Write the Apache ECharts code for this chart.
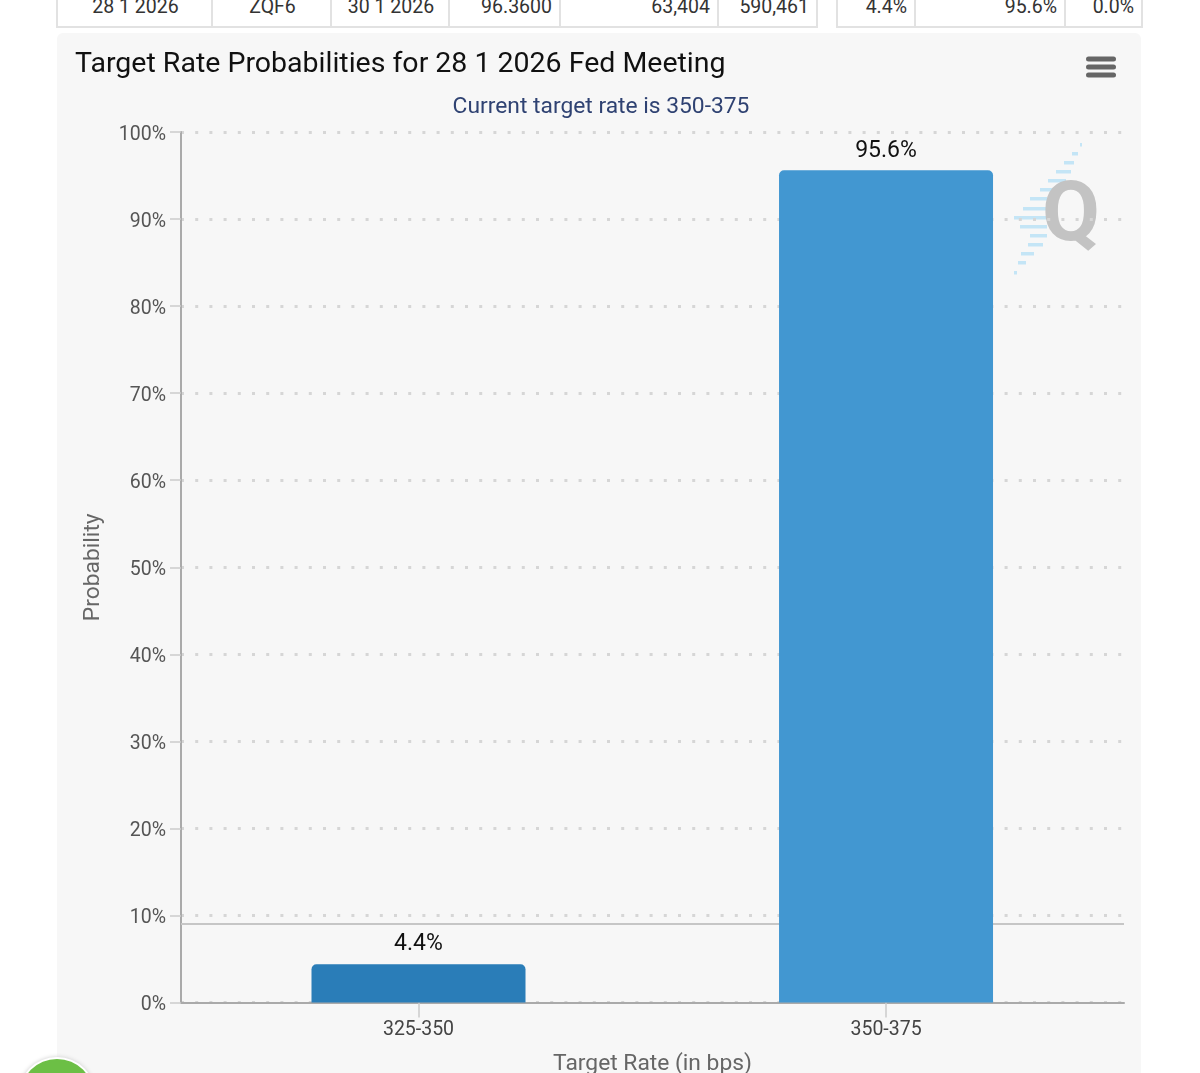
<!DOCTYPE html>
<html>
<head>
<meta charset="utf-8">
<title>Target Rate Probabilities</title>
<script src="https://cdn.jsdelivr.net/npm/echarts@6/dist/echarts.min.js"></script>
<style>
html, body { margin: 0; padding: 0; background: #fff; overflow: hidden; }
body { width: 1200px; height: 1073px; position: relative; font-family: Roboto, sans-serif; }
.card { position: absolute; left: 57px; top: 33px; width: 1084px; height: 1060px; background: #f7f7f7; border-radius: 6px; }
#chart { position: absolute; left: 0; top: 0; width: 1200px; height: 1073px; }
table { position: absolute; top: -19px; border-collapse: collapse; table-layout: fixed; font-size: 19.5px; color: #333; }
td { border: 2px solid #e2e2e2; border-top: none; height: 46px; padding: 6px 7px 0 9px; box-sizing: border-box; text-align: right; vertical-align: middle; white-space: nowrap; }
td.c { text-align: center; }
.dot { position: absolute; left: 20px; top: 1059px; width: 74px; height: 74px; border-radius: 50%; background: #6cbf45; box-shadow: 0 0 0 2px #fff, 0 0 4px 2px #ccc; }
</style>
</head>
<body>
<div class="card"></div>
<table id="t1" style="left:56px;width:760px"></table>
<table id="t2" style="left:836px;width:305px"></table>
<div id="chart"></div>
<div class="dot"></div>
<script>
// top row of the table above the chart
var leftRow = ['28 1 2026', 'ZQF6', '30 1 2026', '96.3600', '63,404', '590,461'];
var leftWidths = [155, 119, 118, 111, 158, 99];
var rightRow = ['4.4%', '95.6%', '0.0%'];
var rightWidths = [78, 150, 77];

// chart data
var categories = ['325-350', '350-375'];
var probabilities = [4.4, 95.6];
var barColors = ['#2a7db8', '#4297d1'];
var yTicks = [0, 10, 20, 30, 40, 50, 60, 70, 80, 90, 100];
var currentLine = 9;

function fillRow(id, row, widths, centered) {
	var html = '<tr>';
	for (var i = 0; i < row.length; i++) {
		html += '<td style="width:' + widths[i] + 'px"' + (i < centered ? ' class="c"' : '') + '>' + row[i] + '</td>';
	}
	document.getElementById(id).innerHTML = html + '</tr>';
}
fillRow('t1', leftRow, leftWidths, 3);
fillRow('t2', rightRow, rightWidths, 0);

// logo stripes: y, x start, x end
var stripes = [[143, 1080, 1082], [152, 1072, 1078], [161, 1064, 1074], [170, 1056, 1071], [179, 1048, 1066],
	[188, 1040, 1058], [197, 1030, 1047], [207, 1023, 1047], [216, 1014, 1047], [225, 1020, 1047],
	[234, 1030, 1047], [243, 1028, 1043], [252, 1021, 1034], [261, 1018, 1026], [271, 1014, 1017]];

var graphics = [];
stripes.forEach(function(s) {
	graphics.push({ type: 'rect', z: -1, shape: { x: s[1], y: s[0], width: s[2] - s[1], height: 3.5 }, style: { fill: '#c4e5f6' } });
});
graphics.push({ type: 'text', z: -1, left: 1042, top: 177, style: { text: 'Q', font: 'bold 84px Roboto', fill: '#c3c3c3' } });
// menu button
[59, 67, 75].forEach(function(y) {
	graphics.push({ type: 'rect', shape: { x: 1086, y: y - 2.5, width: 30, height: 5, r: 2.5 }, style: { fill: '#666' } });
});

var myChart = echarts.init(document.getElementById('chart'));
var option = {
	animation: false,
	textStyle: { fontFamily: 'Roboto' },
	title: [ {
		text: 'Target Rate Probabilities for 28 1 2026 Fed Meeting',
		left: 70,
		top: 45,
		textStyle: { fontSize: 28.5, fontWeight: 'normal', color: '#111' }
	}, {
		text: 'Current target rate is 350-375',
		left: 596,
		top: 91,
		textAlign: 'center',
		textStyle: { fontSize: 22.8, fontWeight: 'normal', color: '#2f4272' }
	} ],
	graphic: graphics,
	grid: { left: 181, top: 132, width: 943, height: 870.5, outerBoundsMode: 'none' },
	xAxis: {
		type: 'value',
		min: -0.508,
		max: 1.509,
		name: 'Target Rate (in bps)',
		nameLocation: 'middle',
		nameGap: 50,
		nameTextStyle: { fontSize: 22.8, color: '#666' },
		splitLine: { show: false },
		axisLine: { show: true, lineStyle: { color: '#aaa', width: 2 } },
		axisTick: { show: true, customValues: [0, 1], length: 15, lineStyle: { color: '#ccc', width: 1.5 } },
		axisLabel: {
			customValues: [0, 1],
			margin: 18,
			fontSize: 19.5,
			color: '#444',
			formatter: function(v) { return categories[v]; }
		}
	},
	yAxis: {
		type: 'value',
		min: 0,
		max: 100,
		interval: 10,
		name: 'Probability',
		nameLocation: 'middle',
		nameGap: 76,
		nameTextStyle: { fontSize: 22.8, color: '#666' },
		axisLine: { show: true, onZero: false, lineStyle: { color: '#aaa', width: 2 } },
		axisTick: { show: true, length: 11, lineStyle: { color: '#ccc', width: 1.5 } },
		axisLabel: {
			margin: 15,
			color: '#555',
			formatter: function(v) { return yTicks.indexOf(v) >= 0 ? '{t|' + v + '%}' : ''; },
			rich: { t: { fontSize: 19.5, color: '#555', padding: [6, 0, 0, 0] } }
		},
		splitLine: { show: true, lineStyle: { color: '#d6d6d6', width: 3, type: [3, 11.2] } }
	},
	series: [ {
		name: 'Probability',
		type: 'bar',
		z: 3,
		barWidth: 214,
		data: probabilities.map(function(v, i) {
			return { value: [i, v], itemStyle: { color: barColors[i], borderRadius: [5, 5, 0, 0] } };
		}),
		label: {
			show: true,
			position: 'top',
			distance: 8,
			fontSize: 23,
			color: '#111',
			formatter: function(p) { return p.value[1].toFixed(1) + '%'; }
		},
		markLine: {
			silent: true,
			symbol: 'none',
			z: 1,
			label: { show: false },
			lineStyle: { color: '#c6c6c6', width: 2, type: 'solid' },
			data: [ { yAxis: currentLine } ]
		}
	} ]
};
myChart.setOption(option);
</script>
</body>
</html>
